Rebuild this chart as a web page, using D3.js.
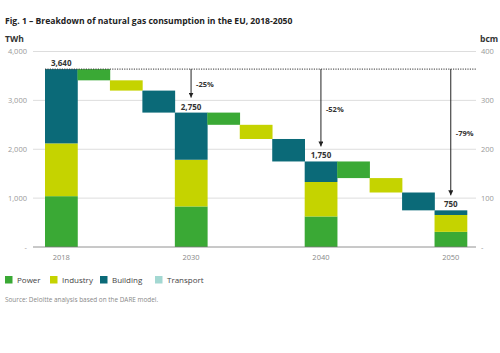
<!DOCTYPE html>
<html>
<head>
<meta charset="utf-8">
<script src="https://cdnjs.cloudflare.com/ajax/libs/d3/7.8.5/d3.min.js"></script>
<style>
	body{margin:0;background:#fff;}
	svg{font-family:"Open Sans",sans-serif;}
</style>
</head>
<body>
<svg width="500" height="353"></svg>
<script>
// values (TWh)
var years = ["2018","2030","2040","2050"];
var power = [1040, 830, 625, 310];
var industry = [1080, 955, 705, 345];
var building = [1520, 965, 420, 95];
var transport = [0, 0, 0, 0];
var totals = [3640, 2750, 1750, 750];
var totalLabels = ["3,640","2,750","1,750","750"];
// reductions between milestone years, per sector
var powerDrop = [230, 250, 340];
var industryDrop = [210, 290, 295];
var buildingDrop = [450, 460, 365];
var pctLabels = ["-25%","-52%","-79%"];
var leftTicks = [0, 1000, 2000, 3000, 4000];
var rightTicks = [0, 100, 200, 300, 400];
var sectors = ["Power","Industry","Building","Transport"];
var colors = {"Power":"#3aa935","Industry":"#c5d300","Building":"#0b6a78","Transport":"#a3d8d2"};

var svg = d3.select("svg");

var y = d3.scaleLinear().domain([0,4000]).range([247,51.5]);
var y2 = d3.scaleLinear().domain([0,400]).range([247,51.5]);

// build the sequence of columns: milestone stacks and step bars between them
var cols = [];
years.forEach(function(yr,i){
	cols.push({key:yr, type:"stack", idx:i});
	if(i < years.length-1){
		cols.push({key:"p"+i, type:"step", sector:"Power", idx:i});
		cols.push({key:"i"+i, type:"step", sector:"Industry", idx:i});
		cols.push({key:"b"+i, type:"step", sector:"Building", idx:i});
	}
});
var x = d3.scaleBand().domain(cols.map(function(d){return d.key;})).range([45,467]).padding(0);

// title
svg.append("text").attr("x",5).attr("y",24)
	.attr("font-size",8.6).attr("font-weight","bold").attr("fill","#222")
	.text("Fig. 1 \u2013 Breakdown of natural gas consumption in the EU, 2018-2050");
svg.append("text").attr("x",5).attr("y",42).attr("font-size",8.5).attr("font-weight","bold").attr("fill","#333").text("TWh");
svg.append("text").attr("x",480).attr("y",42).attr("font-size",8.5).attr("font-weight","bold").attr("fill","#333").text("bcm");

// grid
svg.append("g").selectAll("line").data(leftTicks.filter(function(d){return d>0;}))
	.enter().append("line")
	.attr("x1",33).attr("x2",476)
	.attr("y1",function(d){return y(d);}).attr("y2",function(d){return y(d);})
	.attr("stroke","#d4d4d4").attr("stroke-width",0.8);

var leftAxis = d3.axisLeft(y).tickValues(leftTicks).tickSize(0).tickPadding(0)
	.tickFormat(function(d){return d==0 ? "-" : d3.format(",")(d);});
var gl = svg.append("g").attr("transform","translate(27,0)").call(leftAxis);
var rightAxis = d3.axisRight(y2).tickValues(rightTicks).tickSize(0).tickPadding(0)
	.tickFormat(function(d){return d==0 ? "-" : d;});
var gr = svg.append("g").attr("transform","translate(481,0)").call(rightAxis);
[gl,gr].forEach(function(g){
	g.select(".domain").remove();
	g.selectAll("text").attr("font-size",7.5).attr("fill","#999").attr("font-family","Open Sans, sans-serif");
});

// stacked milestone bars
var stackData = years.map(function(yr,i){
	return {key:yr, Power:power[i], Industry:industry[i], Building:building[i], Transport:transport[i]};
});
var series = d3.stack().keys(sectors)(stackData);
svg.append("g").selectAll("g").data(series).enter().append("g")
	.attr("fill",function(d){return colors[d.key];})
	.selectAll("rect").data(function(d){return d;}).enter().append("rect")
	.attr("x",function(d){return x(d.data.key);})
	.attr("width",x.bandwidth()+0.3)
	.attr("y",function(d){return y(d[1]);})
	.attr("height",function(d){return y(d[0])-y(d[1]);});

// step bars
var steps = [];
for(var i=0;i<years.length-1;i++){
	var level = totals[i];
	[["Power",powerDrop[i],"p"],["Industry",industryDrop[i],"i"],["Building",buildingDrop[i],"b"]].forEach(function(s){
		steps.push({key:s[2]+i, sector:s[0], from:level, to:level-s[1]});
		level = level - s[1];
	});
}
svg.append("g").selectAll("rect").data(steps).enter().append("rect")
	.attr("x",function(d){return x(d.key);})
	.attr("width",x.bandwidth()+0.3)
	.attr("y",function(d){return y(d.from);})
	.attr("height",function(d){return y(d.to)-y(d.from);})
	.attr("fill",function(d){return colors[d.sector];});

// baseline
svg.append("line").attr("x1",33).attr("x2",476).attr("y1",y(0)).attr("y2",y(0))
	.attr("stroke","#777").attr("stroke-width",0.8);

// reference dotted line at 2018 level
svg.append("line").attr("x1",x("2018")).attr("x2",476)
	.attr("y1",y(totals[0])).attr("y2",y(totals[0]))
	.attr("stroke","#333").attr("stroke-width",1).attr("stroke-dasharray","1.2,1.2");

// year labels
svg.append("g").selectAll("text").data(years).enter().append("text")
	.attr("x",function(d){return x(d)+x.bandwidth()/2;})
	.attr("y",260).attr("text-anchor","middle")
	.attr("font-size",7.5).attr("fill","#888")
	.text(function(d){return d;});

// total labels
svg.append("g").selectAll("text").data(years).enter().append("text")
	.attr("x",function(d){return x(d)+x.bandwidth()/2;})
	.attr("y",function(d,i){return y(totals[i])-3;})
	.attr("text-anchor","middle")
	.attr("font-size",8).attr("font-weight","bold").attr("fill","#333")
	.text(function(d,i){return totalLabels[i];});

// arrows
svg.append("defs").append("marker").attr("id","head")
	.attr("viewBox","0 0 10 10").attr("refX",10).attr("refY",5)
	.attr("markerWidth",5).attr("markerHeight",5).attr("orient","auto")
	.append("path").attr("d","M0,0L10,5L0,10z").attr("fill","#222");
var arrowYears = years.slice(1);
svg.append("g").selectAll("line").data(arrowYears).enter().append("line")
	.attr("x1",function(d){return x(d)+x.bandwidth()/2;})
	.attr("x2",function(d){return x(d)+x.bandwidth()/2;})
	.attr("y1",y(totals[0]))
	.attr("y2",function(d,i){return y(totals[i+1])-15;})
	.attr("stroke","#222").attr("stroke-width",1)
	.attr("marker-end","url(#head)");
svg.append("g").selectAll("text").data(arrowYears).enter().append("text")
	.attr("x",function(d){return x(d)+x.bandwidth()/2+5;})
	.attr("y",function(d,i){return (y(totals[0])+y(totals[i+1])-15)/2+4;})
	.attr("font-size",7.5).attr("font-weight","bold").attr("fill","#333")
	.text(function(d,i){return pctLabels[i];});

// legend
var lx = [5, 50, 100, 155];
var legend = svg.append("g").selectAll("g").data(sectors).enter().append("g")
	.attr("transform",function(d,i){return "translate("+lx[i]+",276)";});
legend.append("rect").attr("width",7.5).attr("height",7.5).attr("fill",function(d){return colors[d];});
legend.append("text").attr("x",12).attr("y",7).attr("font-size",8).attr("fill","#444")
	.text(function(d){return d;});

svg.append("text").attr("x",5).attr("y",302).attr("font-size",6.4).attr("fill","#888")
	.text("Source: Deloitte analysis based on the DARE model.");
</script>
</body>
</html>
